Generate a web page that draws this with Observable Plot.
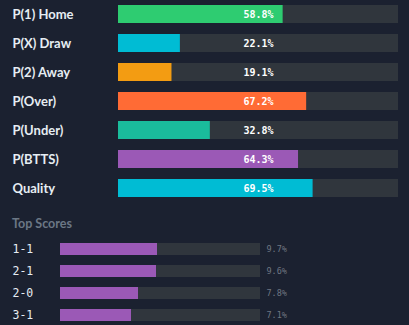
<!DOCTYPE html>
<html>
<head>
<meta charset="utf-8">
<script src="https://cdn.jsdelivr.net/npm/d3@7"></script>
<script src="https://cdn.jsdelivr.net/npm/@observablehq/plot@0.6"></script>
<style>
  html, body { margin: 0; padding: 0; background: #1b2130; }
  #wrap { width: 409px; height: 325px; overflow: hidden; background: #1b2130; }
  #title { position: relative; top: 6px; height: 24px; line-height: 24px; padding-left: 12px; color: #6b7785;
           font: 700 12.5px Lato, "Open Sans", sans-serif; }
  #title + div { margin-top: 0; }
  svg { display: block; }
</style>
</head>
<body>
<div id="wrap">
  <div id="top"></div>
  <div id="title">Top Scores</div>
  <div id="bottom"></div>
</div>
<script>
const metrics = ["P(1) Home", "P(X) Draw", "P(2) Away", "P(Over)", "P(Under)", "P(BTTS)", "Quality"];
const metricValues = [58.8, 22.1, 19.1, 67.2, 32.8, 64.3, 69.5];
const metricColors = ["#2ecc71", "#00bcd4", "#f39c12", "#ff6b35", "#1abc9c", "#9b59b6", "#00bcd4"];

const scores = ["1-1", "2-1", "2-0", "3-1"];
const scoreValues = [9.7, 9.6, 7.8, 7.1];
const scoreColor = "#9b59b6";

const bg = "#1b2130";
const track = "#30363d";

const topData = metrics.map((m, i) => ({label: m, value: metricValues[i], color: metricColors[i]}));
const botData = scores.map((s, i) => ({label: s, value: scoreValues[i]}));

const topPlot = Plot.plot({
  width: 409, height: 210,
  margin: 0,
  style: {background: bg, overflow: "visible"},
  x: {domain: [0, 100], range: [118, 398], axis: null},
  y: {domain: metrics, range: [5, 197], paddingInner: 11/29, paddingOuter: 0, axis: null},
  marks: [
    Plot.barX(topData, {y: "label", x1: 0, x2: 100, fill: track}),
    Plot.barX(topData, {y: "label", x1: 0, x2: "value", fill: "color"}),
    Plot.text(topData, {y: "label", frameAnchor: "left", dx: 12, text: "label", textAnchor: "start",
      fill: "#e6edf3", fontSize: 13, fontWeight: 700, fontFamily: "Lato, 'Open Sans', sans-serif"}),
    Plot.text(topData, {y: "label", x: 50, text: d => d.value.toFixed(1) + "%", textAnchor: "middle",
      fill: "#ffffff", fontSize: 10, fontWeight: 700, fontFamily: "'DejaVu Sans Mono', monospace"})
  ]
});
document.getElementById("top").appendChild(topPlot);

const botPlot = Plot.plot({
  width: 409, height: 91,
  margin: 0,
  style: {background: bg, overflow: "visible"},
  x: {domain: [0, 20], range: [60, 260], axis: null},
  y: {domain: scores, range: [9, 87], paddingInner: 10/22, paddingOuter: 0, axis: null},
  marks: [
    Plot.barX(botData, {y: "label", x1: 0, x2: 20, fill: track}),
    Plot.barX(botData, {y: "label", x1: 0, x2: "value", fill: scoreColor}),
    Plot.text(botData, {y: "label", frameAnchor: "left", dx: 12, text: "label", textAnchor: "start",
      fill: "#e6edf3", fontSize: 11.5, fontFamily: "'DejaVu Sans Mono', monospace"}),
    Plot.text(botData, {y: "label", x: 20, dx: 6, text: d => d.value.toFixed(1) + "%", textAnchor: "start",
      fill: "#6e7681", fontSize: 8.5, fontFamily: "'DejaVu Sans Mono', monospace"})
  ]
});
document.getElementById("bottom").appendChild(botPlot);
</script>
</body>
</html>
